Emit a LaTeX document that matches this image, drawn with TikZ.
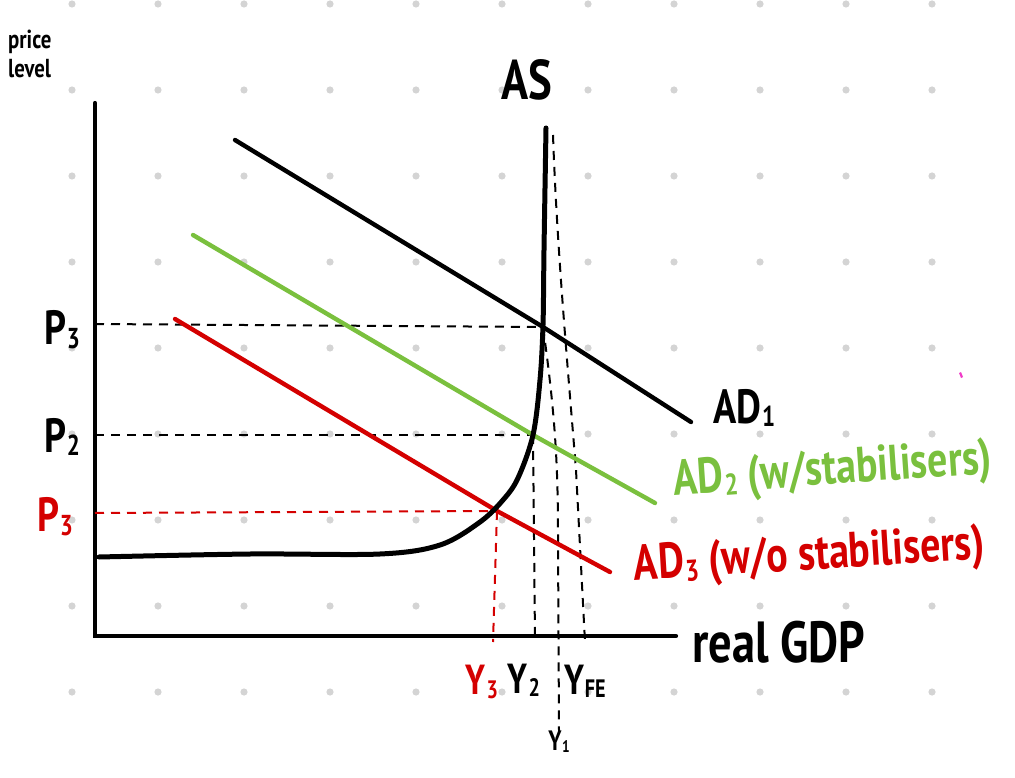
\documentclass[tikz,border=0pt]{standalone}
\usepackage{graphicx}
\usepackage{fontspec}
\setmainfont{PT Sans}
\newfontfamily\hand[FakeStretch=0.8]{PT Sans Bold}
\newcommand\lsub[1]{\kern0.02em\raisebox{-0.08em}{\scalebox{0.6}{#1}}}
\definecolor{adgreen}{RGB}{122,192,62}
\definecolor{adred}{RGB}{212,0,0}
\definecolor{dotgrey}{RGB}{212,212,212}
\definecolor{inkpink}{RGB}{240,60,200}
\begin{document}
\begin{tikzpicture}[x=1pt,y=-1pt,
  axis/.style={line width=4.2pt, line cap=round},
  ascurve/.style={line width=5pt, line cap=round, line join=round},
  adline/.style={line width=4.4pt, line cap=round},
  guide/.style={line width=2pt, dash pattern=on 9pt off 7pt},
  lab/.style={inner sep=0pt, font=\hand\fontsize{#1}{#1}\selectfont},
  lab/.default=44pt,
]
\useasboundingbox (0,0) rectangle (1015,778);
% dot grid
\foreach \x in {72,158,...,932}
  \foreach \y in {4,90,...,692}
    \fill[dotgrey] (\x,\y) circle (3.6);
\fill[inkpink] (959,373) -- (961,372) -- (963,377) -- (961,378) -- cycle;

% axes
\coordinate (O) at (95,636);
\coordinate (ytop) at (95,103);
\coordinate (xend) at (676,636);
\draw[axis] (ytop) -- (O) -- (xend);

% key points
\coordinate (E1) at (543,327);
\coordinate (E2) at (533,435);
\coordinate (E3) at (497,511);
\coordinate (p3axis) at (95,324);
\coordinate (p2axis) at (95,435);
\coordinate (p3raxis) at (95,513);
\coordinate (y3axis) at (493,642);
\coordinate (y2axis) at (535,640);
\coordinate (yfetop) at (553,135);
\coordinate (yfeaxis) at (585,642);

% guides
\draw[guide] (p3axis) -- (E1);
\draw[guide] (p2axis) -- (E2);
\draw[guide, adred] (p3raxis) -- (E3);
\draw[guide, adred] (E3) -- (y3axis);
\draw[guide] (E2) -- (y2axis);
\draw[guide] (yfetop) .. controls (557,250) and (568,370) .. (576,470) -- (yfeaxis);

% labels
\node[lab=56pt] (AS) at (527,80) {AS};
\node[inner sep=0pt, font=\hand\fontsize{26pt}{29pt}\selectfont, align=left, anchor=north west] (plev) at (8,30) {price\\level};
\node[lab=58pt, anchor=west] (rgdp) at (692,642) {real GDP};
\node[lab=48pt] (P3) at (62,330) {P\lsub{3}};
\node[lab=48pt] (P2) at (62,437) {P\lsub{2}};
\node[lab=48pt, text=adred] (P3r) at (55,517) {P\lsub{3}};
\node[lab=42pt, text=adred] (Y3) at (482,682) {Y\lsub{3}};
\node[lab=42pt] (Y2) at (524,680) {Y\lsub{2}};
\node[lab=42pt] (YFE) at (585,681) {Y\lsub{FE}};
\node[lab=28pt] (Y1) at (559,742) {Y\lsub{1}};
\node[lab=48pt, anchor=west] (AD1) at (713,408) {AD\lsub{1}};
\node[lab=50pt, text=adgreen, anchor=west, rotate=4] (AD2) at (673,483) {AD\lsub{2} (w/stabilisers)};
\node[lab=50pt, text=adred, anchor=west, rotate=3.5] (AD3) at (634,568) {AD\lsub{3} (w/o stabilisers)};

\draw[guide] (E1) .. controls (556,420) and (558,470) .. (558,540) -- (Y1.north);

% AD curves
\coordinate (ad1s) at (235,140);
\coordinate (ad2s) at (193,235);
\coordinate (ad3s) at (175,319);
\draw[adline] (ad1s) -- (E1) -- (691,422);
\draw[adline, adgreen] (ad2s) -- (E2) -- (655,503);
\draw[adline, adred] (ad3s) -- (E3) -- (610,572);

% AS curve
\draw[ascurve] plot[smooth, tension=0.55] coordinates {(99,557) (250,554) (380,554) (440,545) (480,522) (503,500) (518,478) (533,435) (540,380) (543,325) (544,250) (546,128)};
\end{tikzpicture}
\end{document}
